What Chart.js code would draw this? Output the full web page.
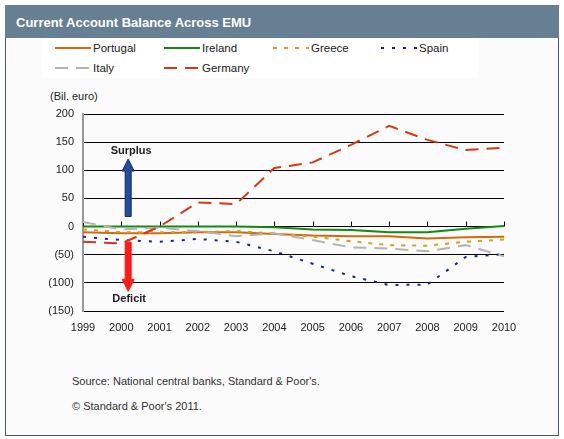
<!DOCTYPE html>
<html>
<head>
<meta charset="utf-8">
<script src="https://cdn.jsdelivr.net/npm/chart.js@4/dist/chart.umd.min.js"></script>
<style>
  body { margin: 0; background: #fff; font-family: "Liberation Sans", Arial, sans-serif; }
  #frame { position: absolute; left: 5px; top: 5px; width: 552px; height: 430px;
           border: 1px solid #3d5a70; border-top: none; background: #fbfbfb; }
  #titlebar { position: absolute; left: 5px; top: 5px; width: 554px; height: 33px; background: #677f93; }
  #title { position: absolute; left: 16px; top: 15px; color: #fff; font-weight: bold; font-size: 13px; }
  #legend { position: absolute; left: 42px; top: 38px; width: 436px; height: 40px; background: #fff; }
  .item { position: absolute; font-size: 11.5px; color: #222; height: 14px; }
  .item svg { position: absolute; left: 0; top: 3px; }
  .item span { position: absolute; left: 38px; top: 0; white-space: nowrap; }
  #ytitle { position: absolute; left: 50px; top: 90px; font-size: 11px; color: #222; }
  .note { position: absolute; left: 72px; font-size: 11px; color: #333; }
  canvas { position: absolute; left: 0; top: 0; }
</style>
</head>
<body>
<div id="frame"></div>
<div id="titlebar"></div>
<div id="title">Current Account Balance Across EMU</div>
<div id="legend"></div>
<div id="ytitle">(Bil. euro)</div>
<div class="note" style="top:375px">Source: National central banks, Standard &amp; Poor's.</div>
<div class="note" style="top:400px">© Standard &amp; Poor's 2011.</div>
<canvas id="chart" width="564" height="439"></canvas>
<script>
const years = [1999, 2000, 2001, 2002, 2003, 2004, 2005, 2006, 2007, 2008, 2009, 2010];
const portugal = [-10, -12, -12, -10, -10, -13, -16, -17, -17, -21, -19, -18];
const ireland  = [0, 0, 0, 0, 0, -1, -5, -6, -10, -10, -4, 1];
const greece   = [-5, -10, -10, -10, -8, -12, -18, -26, -33, -34, -27, -23];
const spain    = [-18, -24, -27, -22, -27, -44, -66, -88, -104, -103, -54, -49];
const italy    = [8, -5, -2, -8, -17, -12, -24, -37, -39, -44, -33, -53];
const germany  = [-27, -30, 0, 43, 40, 104, 114, 145, 179, 154, 136, 140];
const yTicks = [200, 150, 100, 50, 0, -50, -100, -150];

const series = [
  { label: 'Portugal', data: portugal, color: '#d2690f', dash: [], width: 2 },
  { label: 'Ireland', data: ireland, color: '#148a14', dash: [], width: 2 },
  { label: 'Greece', data: greece, color: '#d6a019', dash: [4, 7], width: 2 },
  { label: 'Spain', data: spain, color: '#15249a', dash: [3, 8], width: 2 },
  { label: 'Italy', data: italy, color: '#b4b4b4', dash: [13, 8], width: 2 },
  { label: 'Germany', data: germany, color: '#d43a14', dash: [13, 8], width: 2 }
];

// legend (two rows, fixed columns like the original)
const legendPos = [[13, 4], [122, 4], [231, 4], [339, 4], [13, 24], [122, 24]];
const legendEl = document.getElementById('legend');
series.forEach(function (s, i) {
  const d = document.createElement('div');
  d.className = 'item';
  d.style.left = legendPos[i][0] + 'px';
  d.style.top = legendPos[i][1] + 'px';
  d.innerHTML = '<svg width="36" height="8"><line x1="0" y1="3" x2="36" y2="3" stroke="' + s.color +
    '" stroke-width="2" stroke-dasharray="' + (s.dash.length ? s.dash.join(',') : 'none') + '"/></svg>' +
    '<span>' + s.label + '</span>';
  legendEl.appendChild(d);
});

function drawArrow(ctx, x, y0, y1, fill) {
  const dir = y1 < y0 ? -1 : 1;
  const head = 12;
  ctx.save();
  ctx.beginPath();
  ctx.moveTo(x - 3, y0);
  ctx.lineTo(x - 3, y1 - dir * head);
  ctx.lineTo(x - 6, y1 - dir * head);
  ctx.lineTo(x, y1);
  ctx.lineTo(x + 6, y1 - dir * head);
  ctx.lineTo(x + 3, y1 - dir * head);
  ctx.lineTo(x + 3, y0);
  ctx.closePath();
  ctx.fillStyle = fill;
  ctx.fill();
  ctx.lineWidth = 1;
  ctx.strokeStyle = fill === '#ff1a1a' ? '#ff1a1a' : '#14285a';
  ctx.stroke();
  ctx.restore();
}

const annotations = {
  id: 'annotations',
  beforeDatasetsDraw: function (chart) {
    const ctx = chart.ctx;
    const x = chart.scales.x, y = chart.scales.y;
    // small tick marks on the zero line
    ctx.save();
    ctx.strokeStyle = '#000';
    ctx.lineWidth = 1;
    years.forEach(function (yr) {
      const px = Math.round(x.getPixelForValue(yr)) + 0.5;
      ctx.beginPath();
      ctx.moveTo(px, y.getPixelForValue(0));
      ctx.lineTo(px, y.getPixelForValue(0) - 5);
      ctx.stroke();
    });
    ctx.restore();
  },
  afterDatasetsDraw: function (chart) {
    const ctx = chart.ctx;
    const x = chart.scales.x, y = chart.scales.y;
    const ax = x.getPixelForValue(2000.18);
    drawArrow(ctx, ax, y.getPixelForValue(18), y.getPixelForValue(120), '#1f4f9e');
    drawArrow(ctx, ax, y.getPixelForValue(-28), y.getPixelForValue(-115), '#ff1a1a');
    ctx.save();
    ctx.fillStyle = '#222';
    ctx.font = 'bold 11px "Liberation Sans", Arial, sans-serif';
    ctx.textAlign = 'center';
    ctx.textBaseline = 'middle';
    ctx.fillText('Surplus', ax + 3, y.getPixelForValue(134));
    ctx.fillText('Deficit', ax + 1, y.getPixelForValue(-128));
    ctx.restore();
  }
};

new Chart(document.getElementById('chart'), {
  type: 'line',
  data: {
    datasets: series.map(function (s) {
      return {
        label: s.label,
        data: years.map(function (yr, i) { return { x: yr, y: s.data[i] }; }),
        borderColor: s.color,
        borderWidth: s.width,
        borderDash: s.dash,
        pointRadius: 0,
        tension: 0,
        fill: false
      };
    }).reverse()
  },
  options: {
    responsive: false,
    animation: false,
    layout: { padding: { left: 0, right: 60, top: 114, bottom: 106 } },
    plugins: { legend: { display: false }, tooltip: { enabled: false } },
    scales: {
      x: {
        type: 'linear',
        min: 1999, max: 2010,
        afterFit: function (s) { s.height = 22; },
        grid: { display: false },
        border: { display: false },
        ticks: {
          stepSize: 1, padding: 2, color: '#222',
          font: { family: '"Liberation Sans", Arial', size: 11 },
          callback: function (v) { return String(v); }
        }
      },
      y: {
        min: -150, max: 200,
        afterFit: function (s) { s.width = 83; },
        afterBuildTicks: function (s) { s.ticks = yTicks.map(function (v) { return { value: v }; }); },
        grid: { color: '#000', lineWidth: 1, drawTicks: false },
        border: { color: '#999', width: 2 },
        ticks: {
          padding: 9, color: '#222',
          font: { family: '"Liberation Sans", Arial', size: 11 },
          callback: function (v) { return v < 0 ? '(' + (-v) + ')' : String(v); }
        }
      }
    }
  },
  plugins: [annotations]
});
</script>
</body>
</html>
